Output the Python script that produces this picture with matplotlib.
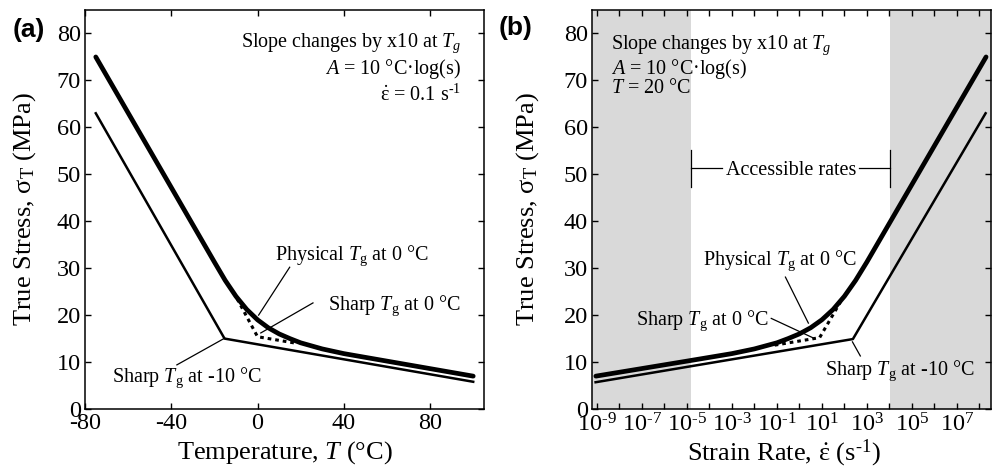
import numpy as np
import matplotlib
matplotlib.use('Agg')
import matplotlib.pyplot as plt

plt.rcParams['font.family'] = ['Liberation Serif', 'DejaVu Serif']
plt.rcParams['mathtext.fontset'] = 'custom'
plt.rcParams['mathtext.rm'] = 'Liberation Serif'
plt.rcParams['mathtext.it'] = 'Liberation Serif:italic'
plt.rcParams['mathtext.bf'] = 'Liberation Serif:bold'
plt.rcParams['axes.unicode_minus'] = False

# (a) stress vs temperature
temp_phys = [-75, -20, -15, -10, -5, 0, 5, 10, 15, 20, 30, 40, 100]
stress_phys = [75, 31.3, 27.4, 24.0, 21.2, 19.0, 17.3, 16.0, 15.0, 14.1, 12.8, 11.8, 7.0]
temp_sharp10 = [-75, -15.3, 100]
stress_sharp10 = [63, 15, 5.8]
temp_sharp0 = [-9.5, 0, 18]
stress_sharp0 = [23.5, 15.4, 14.0]

# (b) stress vs strain rate (log10 of rate)
lograte_phys = [-9.05, -5, -3, -2, -1, -0.5, 0, 0.5, 1, 1.5, 2, 2.5, 3, 8.3]
stress_phys_b = [7.0, 10.2, 11.8, 12.8, 14.1, 15.0, 16.0, 17.3, 19.0, 21.2, 24.0, 27.4, 31.3, 75]
lograte_sharp10 = [-9.06, 2.38, 8.28]
stress_sharp10_b = [5.7, 14.9, 63]
lograte_sharp0 = [-1.1, 0.9, 1.85]
stress_sharp0_b = [13.6, 15.2, 23.0]
accessible = [-4.8, 4.05]

xticks_a = [-80, -40, 0, 40, 80]
yticks = [0, 10, 20, 30, 40, 50, 60, 70, 80]
decades = list(range(-9, 9))

TICK = 17.5
LAB = 19
ANN = 14.5
thick = 3.4
thin = 1.8
lead = 0.9
dots = (0, (1.2, 1.3))

fig = plt.figure(figsize=(9.93, 4.74), dpi=100)
ax1 = fig.add_axes([85/993, 65/474, 399/993, 399/474])
ax2 = fig.add_axes([592/993, 65/474, 399/993, 399/474])


def style(ax):
	ax.tick_params(direction='in', top=True, right=True, length=4, width=1,
	               labelsize=TICK, pad=3)
	for s in ax.spines.values():
		s.set_linewidth(1.1)
	ax.set_ylim(0, 85)
	ax.set_yticks(yticks)


# ---- panel a ----
ax = ax1
ax.plot(temp_phys, stress_phys, c='k', lw=thick, solid_joinstyle='round', solid_capstyle='round')
ax.plot(temp_sharp10, stress_sharp10, c='k', lw=thin)
ax.plot(temp_sharp0, stress_sharp0, c='k', lw=2.2, ls=dots)
style(ax)
ax.set_xlim(-80, 105)
ax.set_xticks(xticks_a)
ax.set_xlabel('Temperature, $T$ (°C)', fontsize=LAB)
ax.set_ylabel('True Stress, σ$_\\mathrm{T}$ (MPa)', fontsize=LAB)
ax.xaxis.set_label_coords(0.5, -0.075)
ax.yaxis.set_label_coords(-0.118, 0.5)

ax.text(94.5, 77.1, 'Slope changes by x10 at $T_g$', ha='right', fontsize=ANN)
ax.text(94.5, 71.4, '$A$ = 10 °C·log(s)', ha='right', fontsize=ANN)
ax.text(94.5, 65.7, '$\\dot{\\mathrm{\\varepsilon}}$ = 0.1 s$^{\\text{-1}}$', ha='right', fontsize=ANN)

ax.text(8, 31.8, 'Physical $T_\\mathrm{g}$ at 0 °C', fontsize=ANN)
ax.plot([14.9, 0.5], [30.2, 20.0], c='k', lw=lead)
ax.text(32.5, 21.1, 'Sharp $T_\\mathrm{g}$ at 0 °C', fontsize=ANN)
ax.plot([25.7, 1.5], [22.6, 16.2], c='k', lw=lead)
ax.text(-67.5, 5.8, 'Sharp $T_\\mathrm{g}$ at -10 °C', fontsize=ANN)
ax.plot([-37.4, -15.2], [9.4, 15.1], c='k', lw=lead)

fig.text(13/993, 1 - 30/474, '(a)', fontsize=19, fontweight='bold', family='Liberation Sans',
         va='center', ha='left')

# ---- panel b ----
ax = ax2
xmin, xmax = 10**-9.22, 10**8.52
ax.axvspan(xmin, 10**accessible[0], color='#d9d9d9', lw=0, zorder=0)
ax.axvspan(10**accessible[1], xmax, color='#d9d9d9', lw=0, zorder=0)
ax.plot(10**np.array(lograte_phys), stress_phys_b, c='k', lw=thick,
        solid_joinstyle='round', solid_capstyle='round')
ax.plot(10**np.array(lograte_sharp10), stress_sharp10_b, c='k', lw=thin)
ax.plot(10**np.array(lograte_sharp0), stress_sharp0_b, c='k', lw=2.2, ls=dots)
ax.set_xscale('log')
style(ax)
ax.set_xlim(xmin, xmax)
ax.set_xticks([10.0**k for k in decades])
ax.set_xticklabels(['10$^{\\text{%d}}$' % k if k % 2 else '' for k in decades])
ax.minorticks_off()
ax.set_xlabel('Strain Rate, $\\dot{\\mathrm{\\varepsilon}}$ (s$^{\\text{-1}}$)', fontsize=LAB)
ax.set_ylabel('True Stress, σ$_\\mathrm{T}$ (MPa)', fontsize=LAB)
ax.xaxis.set_label_coords(0.48, -0.072)
ax.yaxis.set_label_coords(-0.128, 0.5)

x0 = 10**-8.39
ax.text(x0, 76.7, 'Slope changes by x10 at $T_g$', fontsize=ANN)
ax.text(x0, 71.3, '$A$ = 10 °C·log(s)', fontsize=ANN)
ax.text(x0, 67.3, '$T$ = 20 °C', fontsize=ANN)

# accessible rates bracket
lo, hi = 10**accessible[0], 10**accessible[1]
ax.plot([lo, lo], [47.2, 55.1], c='k', lw=lead)
ax.plot([hi, hi], [47.2, 55.1], c='k', lw=lead)
ax.plot([lo, 10**-3.42], [51.3, 51.3], c='k', lw=lead)
ax.plot([10**2.67, hi], [51.3, 51.3], c='k', lw=lead)
ax.text(10**-0.37, 49.8, 'Accessible rates', ha='center', fontsize=ANN)

ax.text(10**-4.3, 30.6, 'Physical $T_\\mathrm{g}$ at 0 °C', fontsize=ANN)
ax.plot([10**-0.62, 10**0.4], [28.1, 18.3], c='k', lw=lead)
ax.text(10**-7.28, 17.9, 'Sharp $T_\\mathrm{g}$ at 0 °C', fontsize=ANN)
ax.plot([10**-1.25, 10**0.68], [19.3, 15.0], c='k', lw=lead)
ax.text(10**1.16, 7.2, 'Sharp $T_\\mathrm{g}$ at -10 °C', fontsize=ANN)
ax.plot([10**2.36, 10**2.71], [14.3, 11.3], c='k', lw=lead)

fig.text(499/993, 1 - 28/474, '(b)', fontsize=19, fontweight='bold', family='Liberation Sans',
         va='center', ha='left')

fig.savefig('out.png', dpi=100)
